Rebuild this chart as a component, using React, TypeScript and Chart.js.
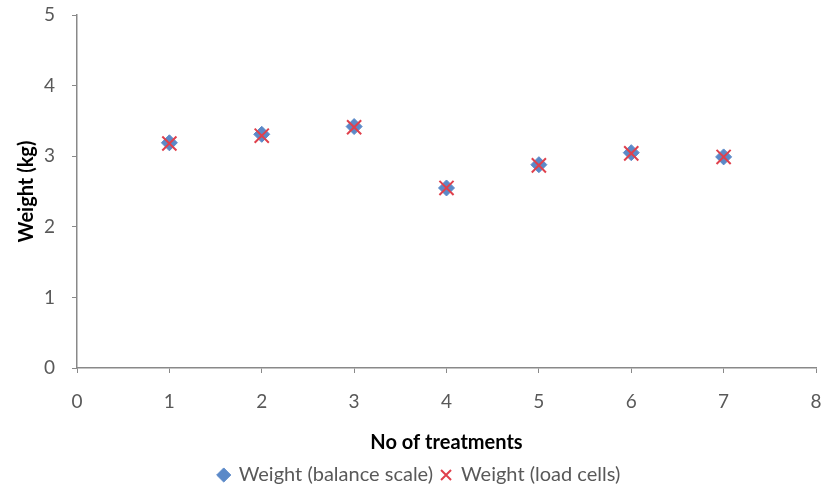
import React, { useEffect, useRef } from "react";
import { Chart, registerables } from "chart.js";

Chart.register(...registerables);

const treatments = [1, 2, 3, 4, 5, 6, 7];
const balanceScale = [3.19, 3.31, 3.42, 2.55, 2.88, 3.05, 2.99];
const loadCells = [3.18, 3.29, 3.41, 2.55, 2.87, 3.04, 2.99];
const xTicks = [0, 1, 2, 3, 4, 5, 6, 7, 8];
const yTicks = [0, 1, 2, 3, 4, 5];

const FONT = "Lato, 'Open Sans', sans-serif";

export default function App() {
  const ref = useRef<HTMLCanvasElement | null>(null);
  useEffect(() => {
    document.body.style.margin = "0";
    const ctx = ref.current!;
    const chart = new Chart(ctx, {
      type: "scatter",
      data: {
        datasets: [
          {
            label: "Weight (balance scale)",
            data: treatments.map((x, i) => ({ x, y: balanceScale[i] })),
            order: 2,
            pointStyle: "rectRot",
            pointRadius: 8,
            pointBackgroundColor: "#5B89C8",
            pointBorderColor: "#5B89C8",
            backgroundColor: "#5B89C8",
            borderColor: "#5B89C8",
            pointBorderWidth: 1,
          },
          {
            label: "Weight (load cells)",
            data: treatments.map((x, i) => ({ x, y: loadCells[i] })),
            order: 1,
            pointStyle: "crossRot",
            pointRadius: 10,
            pointBorderColor: "#E0404C",
            borderColor: "#E0404C",
            backgroundColor: "#E0404C",
            pointBorderWidth: 2,
          },
        ],
      },
      options: {
        animation: false,
        responsive: false,
        layout: { padding: { left: 15, right: 4, top: 15, bottom: -4 } },
        plugins: {
          tooltip: { enabled: false },
          legend: {
            position: "bottom",
            labels: {
              usePointStyle: true,
              boxWidth: 10,
              boxHeight: 10,
              padding: 8,
              color: "#595959",
              font: { family: FONT, size: 20 },
              sort: (a: any, b: any) => a.datasetIndex - b.datasetIndex,
            },
          },
        },
        scales: {
          x: {
            type: "linear",
            min: 0,
            max: 8,
            afterBuildTicks: (s: any) => {
              s.ticks = xTicks.map((v) => ({ value: v }));
            },
            afterFit: (s: any) => {
              s.height = 89;
              s.paddingLeft = 0;
              s.paddingRight = 0;
            },
            ticks: {
              color: "#595959",
              font: { family: FONT, size: 19 },
              padding: 17,
            },
            grid: {
              display: true,
              drawOnChartArea: false,
              drawTicks: true,
              tickLength: 5,
              color: "#898989",
            },
            border: { color: "#898989", width: 1.5 },
            title: {
              display: true,
              text: "No of treatments",
              color: "#000000",
              font: { family: FONT, size: 20, weight: "bold" },
              padding: { top: 0, bottom: 2 },
            },
          },
          y: {
            type: "linear",
            min: 0,
            max: 5,
            afterBuildTicks: (s: any) => {
              s.ticks = yTicks.map((v) => ({ value: v }));
            },
            afterFit: (s: any) => {
              s.width = 62;
              s.paddingTop = 0;
              s.paddingBottom = 0;
            },
            ticks: {
              color: "#595959",
              font: { family: FONT, size: 19 },
              padding: 17,
            },
            grid: {
              display: true,
              drawOnChartArea: false,
              drawTicks: true,
              tickLength: 5,
              color: "#898989",
            },
            border: { color: "#898989", width: 1.5 },
            title: {
              display: true,
              text: "Weight (kg)",
              color: "#000000",
              font: { family: FONT, size: 20, weight: "bold" },
              padding: { top: 0, bottom: 0 },
            },
          },
        },
      },
    });
    return () => chart.destroy();
  }, []);
  return (
    <div style={{ width: 828, height: 491, background: "#fff" }}>
      <canvas ref={ref} width={828} height={491} />
    </div>
  );
}
